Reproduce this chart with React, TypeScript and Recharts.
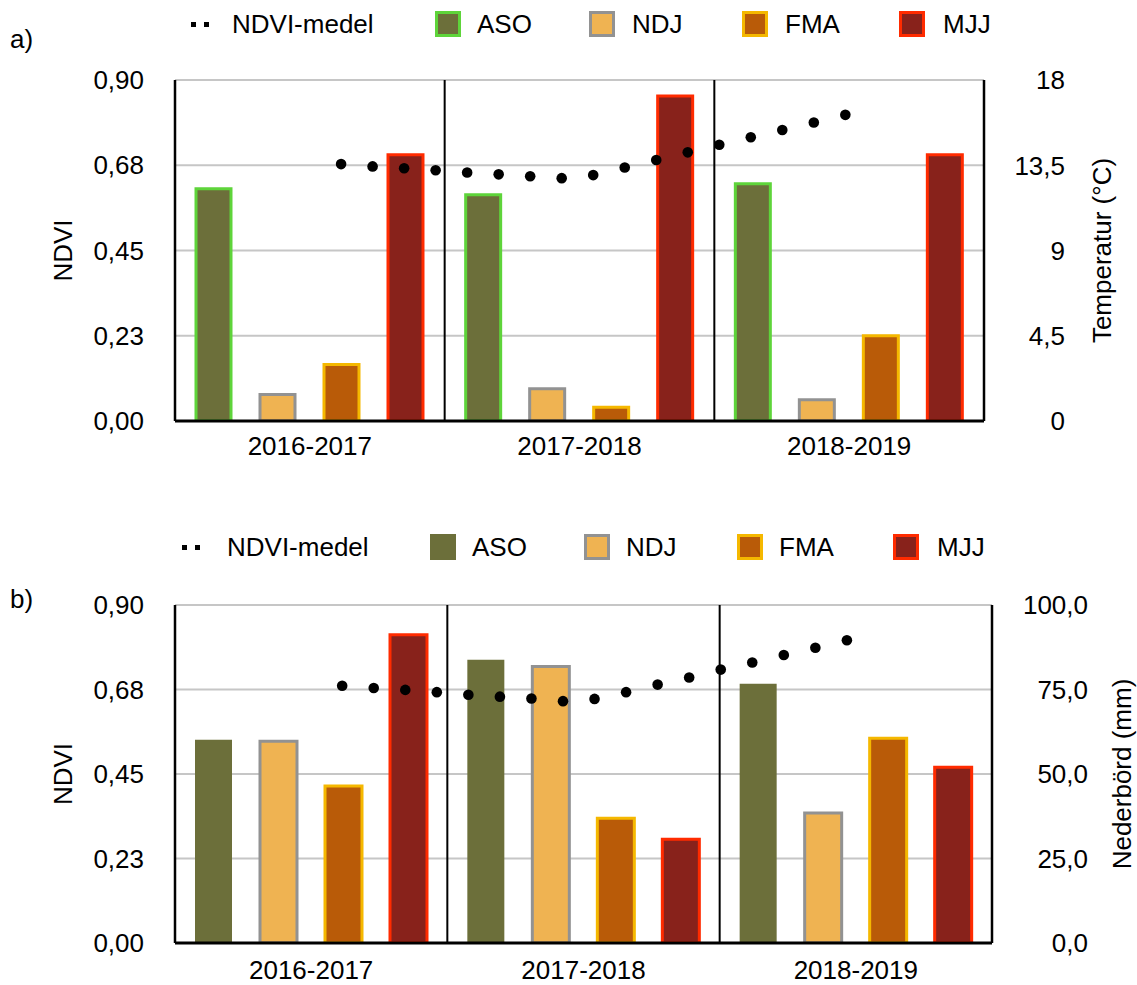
import { ComposedChart, Bar, Scatter, XAxis, YAxis, CartesianGrid, ReferenceLine, Label } from 'recharts'

const years = ['2016-2017', '2017-2018', '2018-2019']

// NDVI per season, panel a (temperature)
const asoA = [0.613, 0.597, 0.626]
const ndjA = [0.07, 0.085, 0.056]
const fmaA = [0.149, 0.036, 0.225]
const mjjA = [0.703, 0.858, 0.703]
const meanA = [0.678, 0.672, 0.667, 0.662, 0.656, 0.651, 0.646, 0.641, 0.649, 0.669, 0.689, 0.709, 0.729, 0.749, 0.768, 0.788, 0.808]

// NDVI per season, panel b (precipitation)
const asoB = [0.541, 0.754, 0.69]
const ndjB = [0.537, 0.736, 0.346]
const fmaB = [0.418, 0.332, 0.545]
const mjjB = [0.821, 0.276, 0.468]
const meanB = [0.685, 0.679, 0.674, 0.668, 0.661, 0.656, 0.651, 0.644, 0.65, 0.668, 0.688, 0.707, 0.728, 0.747, 0.767, 0.786, 0.806]

const ndviTicks = [0, 0.225, 0.45, 0.675, 0.9]
const tempTicks = [0, 4.5, 9, 13.5, 18]
const rainTicks = [0, 25, 50, 75, 100]

const FONT = '"Liberation Sans", Arial, Helvetica, sans-serif'
const FS = 26

const seasons = [
    { key: 'aso', name: 'ASO', fill: '#6c6f3a', stroke: '#5ed43a' },
    { key: 'ndj', name: 'NDJ', fill: '#efb352', stroke: '#929292' },
    { key: 'fma', name: 'FMA', fill: '#b95b08', stroke: '#f5b800' },
    { key: 'mjj', name: 'MJJ', fill: '#88221b', stroke: '#ff2b00' },
]

const comma = (s: string) => s.replace('.', ',')

function buildRows(aso: number[], ndj: number[], fma: number[], mjj: number[]) {
    return years.map((year, i) => ({ year, aso: aso[i], ndj: ndj[i], fma: fma[i], mjj: mjj[i] }))
}

function SeriesLegend({ top, xs, plainAso }: { top: number, xs: number[], plainAso: boolean }) {
    // xs: icon, label, then square/label pairs for each season
    return (
        <div style={{ position: 'absolute', top, left: 0, width: 1137, height: 30, fontSize: FS, fontFamily: FONT }}>
            <svg style={{ position: 'absolute', left: xs[0], top: 13 }} width={20} height={6}>
                <rect x={0} y={0} width={5} height={5} fill="#000" />
                <rect x={13} y={0} width={5} height={5} fill="#000" />
            </svg>
            <span style={{ position: 'absolute', left: xs[1], top: 0, lineHeight: '30px' }}>NDVI-medel</span>
            {seasons.map((s, i) => (
                <div key={s.key}>
                    <div style={{
                        position: 'absolute', left: xs[2 + i * 2], top: 2, width: 26, height: 26,
                        boxSizing: 'border-box', background: s.fill,
                        border: plainAso && s.key === 'aso' ? 'none' : `3px solid ${s.stroke}`,
                    }} />
                    <span style={{ position: 'absolute', left: xs[3 + i * 2], top: 0, lineHeight: '30px' }}>{s.name}</span>
                </div>
            ))}
        </div>
    )
}

type PanelProps = {
    top: number
    height: number
    marginTop: number
    marginBottom: number
    plotRight: number
    rows: any[]
    means: number[]
    meanDomain: [number, number]
    rightDomain: [number, number]
    rightTicks: number[]
    rightFormat: (v: number) => string
    rightTitle: string
    rightTickEnd: number
    rightTitleX: number
    barSize: number
    barGap: number
    plainAso: boolean
    xTickMargin: number
}

function Panel(p: PanelProps) {
    const meanRows = p.means.map((v, i) => ({ i, v }))
    const rightWidth = 1137 - p.plotRight
    return (
        <div style={{ position: 'absolute', left: 0, top: p.top }}>
            <ComposedChart
                width={1137}
                height={p.height}
                data={p.rows}
                barGap={p.barGap}
                margin={{ top: p.marginTop, right: 0, left: 0, bottom: p.marginBottom }}
            >
                <CartesianGrid yAxisId="left" xAxisId="cat" vertical={false} stroke="#c6c6c6" strokeWidth={2} />
                <XAxis
                    xAxisId="cat"
                    dataKey="year"
                    height={40}
                    axisLine={{ stroke: '#000', strokeWidth: 3 }}
                    tickLine={false}
                    tickSize={0}
                    tickMargin={p.xTickMargin}
                    tick={{ fill: '#000', fontSize: FS, fontFamily: FONT }}
                />
                <XAxis xAxisId="idx" type="number" dataKey="i" domain={p.meanDomain} allowDataOverflow hide />
                <YAxis
                    yAxisId="left"
                    width={175}
                    domain={[0, 0.9]}
                    ticks={ndviTicks}
                    interval={0}
                    allowDataOverflow
                    axisLine={{ stroke: '#000', strokeWidth: 2.5 }}
                    tickLine={false}
                    tickSize={0}
                    tickMargin={31}
                    tickFormatter={(v: number) => comma(v.toFixed(2))}
                    tick={{ fill: '#000', fontSize: FS, fontFamily: FONT }}
                >
                    <Label
                        content={({ viewBox }: any) => {
                            const cy = viewBox.y + viewBox.height / 2
                            return (
                                <text x={63} y={cy} transform={`rotate(-90 63 ${cy})`} textAnchor="middle"
                                    dominantBaseline="central" fontSize={FS} fontFamily={FONT} fill="#000">
                                    NDVI
                                </text>
                            )
                        }}
                    />
                </YAxis>
                <YAxis
                    yAxisId="right"
                    orientation="right"
                    type="number"
                    width={rightWidth}
                    domain={p.rightDomain}
                    allowDataOverflow
                    ticks={p.rightTicks}
                    interval={0}
                    axisLine={{ stroke: '#000', strokeWidth: 2.5 }}
                    tickLine={false}
                    tickSize={0}
                    tickMargin={0}
                    tick={({ x, y, payload }: any) => (
                        <text x={x + p.rightTickEnd} y={y} dy="0.36em" textAnchor="end"
                            fontSize={FS} fontFamily={FONT} fill="#000">
                            {p.rightFormat(payload.value)}
                        </text>
                    )}
                >
                    <Label
                        content={({ viewBox }: any) => {
                            const cy = viewBox.y + viewBox.height / 2
                            return (
                                <text x={p.rightTitleX} y={cy} transform={`rotate(-90 ${p.rightTitleX} ${cy})`}
                                    textAnchor="middle" dominantBaseline="central" fontSize={FS} fontFamily={FONT} fill="#000">
                                    {p.rightTitle}
                                </text>
                            )
                        }}
                    />
                </YAxis>
                {seasons.map(s => (
                    <Bar
                        key={s.key}
                        xAxisId="cat"
                        yAxisId="left"
                        dataKey={s.key}
                        name={s.name}
                        barSize={p.barSize}
                        fill={s.fill}
                        stroke={p.plainAso && s.key === 'aso' ? 'none' : s.stroke}
                        strokeWidth={3}
                        isAnimationActive={false}
                    />
                ))}
                {/* black separators at the start of the 2nd and 3rd season-year band */}
                <ReferenceLine xAxisId="cat" yAxisId="left" x={years[1]} position="start" stroke="#000" strokeWidth={2} />
                <ReferenceLine xAxisId="cat" yAxisId="left" x={years[2]} position="start" stroke="#000" strokeWidth={2} />
                <Scatter
                    xAxisId="idx"
                    yAxisId="left"
                    data={meanRows}
                    dataKey="v"
                    name="NDVI-medel"
                    isAnimationActive={false}
                    shape={(d: any) => <circle cx={d.cx} cy={d.cy} r={5.3} fill="#000" />}
                />
            </ComposedChart>
        </div>
    )
}

export default function App() {
    return (
        <div style={{ position: 'absolute', left: 0, top: 0, width: 1137, height: 985, background: '#fff', fontFamily: FONT }}>
            <div style={{ position: 'absolute', left: 10, top: 24, fontSize: FS, lineHeight: '30px' }}>a)</div>
            <div style={{ position: 'absolute', left: 10, top: 584, fontSize: FS, lineHeight: '30px' }}>b)</div>
            <SeriesLegend top={9} xs={[191, 232, 435, 477, 589, 632, 742, 785, 899, 943]} plainAso={false} />
            <SeriesLegend top={532} xs={[182, 227, 430, 472, 584, 626, 737, 779, 893, 937]} plainAso={true} />
            <Panel
                top={0}
                height={470}
                marginTop={80}
                marginBottom={9}
                plotRight={984}
                rows={buildRows(asoA, ndjA, fmaA, mjjA)}
                means={meanA}
                meanDomain={[-5.27, 20.4]}
                rightDomain={[0, 18]}
                rightTicks={tempTicks}
                rightFormat={(v: number) => comma(String(v))}
                rightTitle="Temperatur (°C)"
                rightTickEnd={81}
                rightTitleX={1102}
                barSize={35}
                barGap={29}
                plainAso={false}
                xTickMargin={16}
            />
            <Panel
                top={520}
                height={465}
                marginTop={85}
                marginBottom={2}
                plotRight={992}
                rows={buildRows(asoB, ndjB, fmaB, mjjB)}
                means={meanB}
                meanDomain={[-5.3, 20.6]}
                rightDomain={[0, 100]}
                rightTicks={rainTicks}
                rightFormat={(v: number) => comma(v.toFixed(1))}
                rightTitle="Nederbörd (mm)"
                rightTickEnd={96}
                rightTitleX={1122}
                barSize={37}
                barGap={28}
                plainAso={true}
                xTickMargin={18}
            />
        </div>
    )
}
